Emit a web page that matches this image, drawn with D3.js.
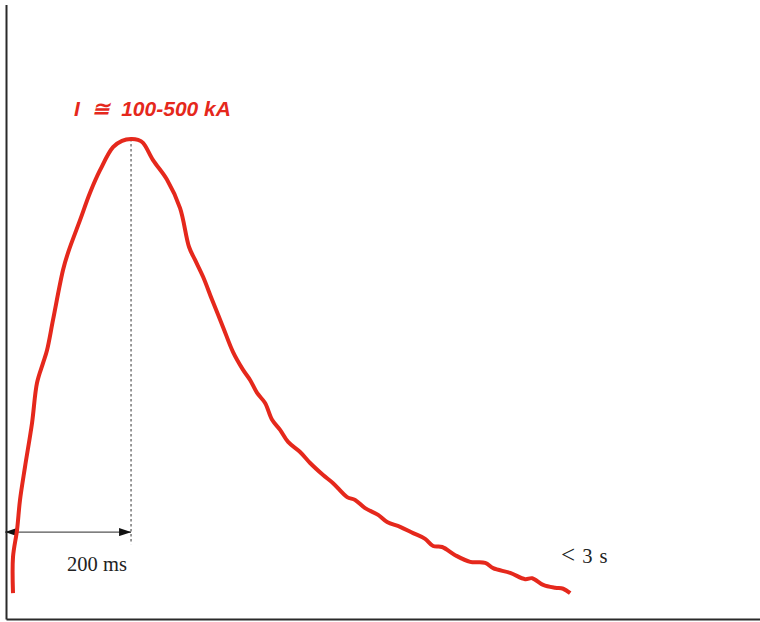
<!DOCTYPE html>
<html>
<head>
<meta charset="utf-8">
<script src="https://cdn.jsdelivr.net/npm/d3@7"></script>
<style>
  html, body { margin: 0; padding: 0; background: #ffffff; }
  svg { display: block; }
  text { white-space: pre; }
</style>
</head>
<body>
<svg id="chart" width="760" height="622"></svg>
<script>
// Lightning return-stroke current waveform (schematic)
// time in milliseconds, current as percent of peak
const timeMs = [11.2, 11.2, 17.6, 22.4, 30.4, 41.6, 49.6, 59.2, 65.6, 75.2, 91.2, 99.2, 118.4, 134.4, 150.4, 171.2, 185.6, 200, 211.2, 219.2, 235.2, 257.6, 278.4, 292.8, 302.4, 315.2, 329.6, 347.2, 363.2, 379.2, 390.4, 401.6, 414.4, 425.6, 438.4, 451.2, 470.4, 486.4, 507.2, 523.2, 545.6, 558.4, 574.4, 595.2, 609.6, 630.4, 651.2, 670.4, 683.2, 697.6, 718.4, 742.4, 766.4, 779.2, 806.4, 830.4, 841.6, 859.2, 878.4, 891.2, 902.4];
const currentPct = [5.4, 12.9, 18.5, 24.8, 31.7, 40.8, 49.2, 53.3, 56.0, 62.3, 72.7, 76.3, 83.1, 88.8, 93.5, 98.3, 99.6, 100, 99.8, 99.2, 95.6, 91.5, 85.6, 77.5, 74.8, 71.3, 66.5, 60.8, 55.6, 51.9, 49.8, 47.1, 45.0, 41.5, 39.4, 36.9, 34.8, 32.5, 30.0, 28.3, 25.4, 24.8, 23.1, 21.7, 20.2, 19.2, 17.9, 16.7, 15.2, 15.0, 13.3, 11.9, 11.7, 10.6, 9.6, 8.3, 8.5, 7.1, 6.5, 6.3, 5.4];

const peakTime = 200;          // ms, time to peak
const peakValue = 100;         // percent of peak
const peakLabel = "I  \u2245  100-500 kA";
const riseLabel = "200 ms";
const durationSymbol = "<";
const durationLabel = " 3 s";

const svg = d3.select("#chart");
const red = "#e5281c";

const x = d3.scaleLinear().domain([0, 1206]).range([6, 760]);
const y = d3.scaleLinear().domain([0, 128]).range([619, 4.6]);

// axes: plain lines without ticks
svg.append("g")
  .attr("transform", `translate(${x(0)},0)`)
  .call(d3.axisLeft(y).tickValues([]).tickSizeOuter(0))
  .call(g => g.select(".domain").attr("stroke", "#2a2a2a").attr("stroke-width", 2));

svg.append("g")
  .attr("transform", `translate(0,${y(0)})`)
  .call(d3.axisBottom(x).tickValues([]).tickSizeOuter(0))
  .call(g => g.select(".domain").attr("stroke", "#2a2a2a").attr("stroke-width", 2));

// dashed marker at the peak
svg.append("line")
  .attr("x1", x(peakTime)).attr("x2", x(peakTime))
  .attr("y1", y(peakValue)).attr("y2", y(15.6))
  .attr("stroke", "#333").attr("stroke-width", 1)
  .attr("stroke-dasharray", "2.5,2.5");

// double-headed arrow spanning the rise time
const defs = svg.append("defs");
defs.append("marker")
  .attr("id", "head").attr("viewBox", "0 0 12 8")
  .attr("refX", 12).attr("refY", 4)
  .attr("markerWidth", 12).attr("markerHeight", 8)
  .attr("markerUnits", "userSpaceOnUse")
  .attr("orient", "auto-start-reverse")
  .append("path").attr("d", "M0,0 L12,4 L0,8 Z").attr("fill", "#111");

const arrowY = y(18.1);
svg.append("line")
  .attr("x1", x(0) - 1).attr("x2", x(peakTime))
  .attr("y1", arrowY).attr("y2", arrowY)
  .attr("stroke", "#555").attr("stroke-width", 1.2)
  .attr("marker-start", "url(#head)")
  .attr("marker-end", "url(#head)");

// current curve
const pts = timeMs.map((t, i) => [t, currentPct[i]]);
svg.append("path")
  .datum(pts)
  .attr("fill", "none")
  .attr("stroke", red)
  .attr("stroke-width", 4)
  .attr("stroke-linejoin", "round")
  .attr("stroke-linecap", "butt")
  .attr("d", d3.line().x(d => x(d[0])).y(d => y(d[1])).curve(d3.curveCatmullRom.alpha(0.5)));

// labels
svg.append("text")
  .attr("x", 74).attr("y", 116)
  .attr("fill", red)
  .attr("font-family", "'Liberation Sans', Arial, sans-serif")
  .attr("font-weight", "bold").attr("font-style", "italic")
  .attr("font-size", 21)
  .text(peakLabel);

svg.append("text")
  .attr("x", 97).attr("y", 571)
  .attr("text-anchor", "middle")
  .attr("fill", "#222")
  .attr("font-family", "'Liberation Serif', 'Times New Roman', serif")
  .attr("font-size", 20.5)
  .text(riseLabel);

const dur = svg.append("text")
  .attr("x", 561).attr("y", 563)
  .attr("fill", "#222")
  .attr("font-family", "'Liberation Serif', 'Times New Roman', serif")
  .attr("font-size", 20.5)
  .attr("word-spacing", 2);
dur.append("tspan").attr("font-size", 25).text(durationSymbol);
dur.append("tspan").text(durationLabel);
</script>
</body>
</html>
